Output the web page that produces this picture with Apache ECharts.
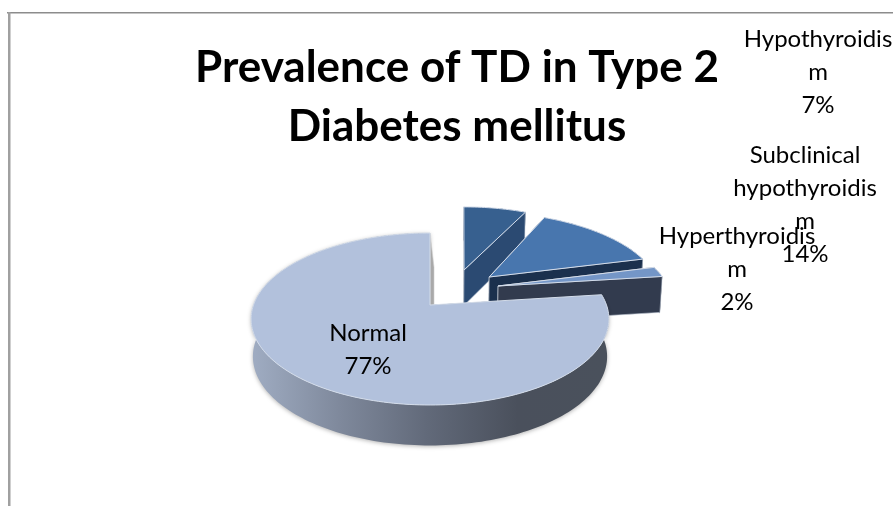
<!DOCTYPE html>
<html>
<head>
<meta charset="utf-8">
<style>
  html, body { margin: 0; padding: 0; background: #fff; }
  #chart { width: 893px; height: 506px; }
</style>
<script src="https://cdn.jsdelivr.net/npm/echarts@6/dist/echarts.min.js"></script>
</head>
<body>
<div id="chart"></div>
<script>
// values, in clockwise order from 12 o'clock
var categories = ["Hypothyroidism", "Subclinical hypothyroidism", "Hyperthyroidism", "Normal"];
var percents = [7, 14, 2, 77];
// the wrapping of the original labels, breaks included
var labelNames = ["Hypothyroidis\nm", "Subclinical\nhypothyroidis\nm", "Hyperthyroidis\nm", "Normal"];

var titleText = "Prevalence of TD in Type 2\nDiabetes mellitus";

// look of each slice: plane offset of the explosion, colours, label position
var sliceStyles = [
  { ex: 0.207, ey: 0.449, skew: 0.03, top: "#37608F", wall: "#2B4A72", lean: 0, lx: 818, ly: 72 },
  { ex: 0.355, ey: 0.354, skew: 0, top: "#4876AE", wall: "#1B304D", lean: 0, lx: 805, ly: 205 },
  { ex: 0.401, ey: 0.236, skew: 0, top: "#7496C7", wall: "#323B4E", lean: 0, lx: 737, ly: 269 },
  { ex: 0, ey: 0, skew: 0, top: "#B2C1DC", wall: null, lean: 4, lx: 368, ly: 350 }
];

// projection of the tilted pie plane
var pieX = 430, pieY = 305, radiusX = 176.5, radiusY = 83.7, persp = 0.163, depth = 37, narrow = 0.99;

function project(u, v) {
  var w = 1 + persp * v;
  return { x: pieX + radiusX * u / w, y: pieY - radiusY * v / w, w: w };
}
function below(p, lean) {
  return [pieX + (p.x - pieX) * narrow + (lean || 0), p.y + depth / Math.sqrt(p.w)];
}

var total = percents.reduce(function (a, b) { return a + b; }, 0);

function renderSlice(params, api) {
  var i = api.value(0);
  var st = sliceStyles[i];
  var before = 0;
  for (var k = 0; k < i; k++) before += percents[k];
  var a0 = before / total * Math.PI * 2;
  var a1 = (before + api.value(1)) / total * Math.PI * 2;
  var steps = Math.max(4, Math.round((a1 - a0) * 40));

  var apex = project(st.ex, st.ey);
  var rim = [];
  for (var s = 0; s <= steps; s++) {
    var a = a0 + (a1 - a0) * s / steps;
    rim.push(project(st.ex + Math.sin(a) + st.skew * Math.cos(a), st.ey + Math.cos(a)));
  }
  var rimTop = rim.map(function (p) { return [p.x, p.y]; });
  var rimBottom = rim.map(function (p) { return below(p); });
  var first = rim[0], last = rim[rim.length - 1];

  var wallFill = st.wall || new echarts.graphic.LinearGradient(250, 0, 607, 0, [
    { offset: 0, color: "#A0ADC3" },
    { offset: 0.25, color: "#7F899C" },
    { offset: 0.5, color: "#616979" },
    { offset: 0.75, color: "#4A505C" },
    { offset: 1, color: "#4A515C" }
  ], true);

  var children = [];
  // face along the start edge
  children.push({
    type: "polygon",
    shape: { points: [[apex.x, apex.y], [first.x, first.y], below(first), below(apex)] },
    style: { fill: st.wall || "#4A515C", stroke: st.wall ? "#BFC3CA" : null, lineWidth: 1 }
  });
  // outer wall
  children.push({
    type: "polygon",
    shape: { points: rimTop.concat(rimBottom.slice().reverse()) },
    style: { fill: wallFill, shadowBlur: st.wall ? 0 : 4, shadowColor: "rgba(0,0,0,0.3)", shadowOffsetY: 1 }
  });
  // face along the end edge
  children.push({
    type: "polygon",
    shape: { points: [[apex.x, apex.y], [last.x, last.y], below(last, st.lean), below(apex, st.lean)] },
    style: { fill: st.wall || "#A9A9A9", stroke: st.wall ? "#C4CCD8" : "#CFCFCF", lineWidth: 0.6 }
  });
  // top face
  children.push({
    type: "polygon",
    shape: { points: [[apex.x, apex.y]].concat(rimTop) },
    style: { fill: st.top, stroke: "#D3DCEA", lineWidth: 1, lineJoin: "round" }
  });
  // label
  children.push({
    type: "text",
    z2: 100,
    style: {
      x: st.lx,
      y: st.ly,
      text: labelNames[i] + "\n" + api.value(1) + "%",
      align: "center",
      verticalAlign: "middle",
      fill: "#000",
      font: "24px Lato",
      lineHeight: 33
    }
  });
  return { type: "group", children: children };
}

var chart = echarts.init(document.getElementById("chart"), null, { renderer: "canvas" });
chart.setOption({
  animation: false,
  backgroundColor: "#fff",
  title: {
    text: titleText,
    left: 452,
    top: 33,
    textAlign: "center",
    textStyle: { fontFamily: "Lato", fontWeight: 700, fontSize: 44, lineHeight: 59, color: "#000" }
  },
  // frame of the chart area, cut off by the picture edge
  graphic: [
    { type: "rect", shape: { x: 7, y: 12, width: 886, height: 1.5 }, style: { fill: "#8C8C8C" }, silent: true },
    { type: "rect", shape: { x: 8, y: 12, width: 2.5, height: 494 }, style: { fill: "#A0A0A0" }, silent: true }
  ],
  series: [{
    type: "custom",
    name: "Prevalence",
    coordinateSystem: "none",
    renderItem: renderSlice,
    data: percents.map(function (v, i) { return [i, v]; })
  }]
});
</script>
</body>
</html>
